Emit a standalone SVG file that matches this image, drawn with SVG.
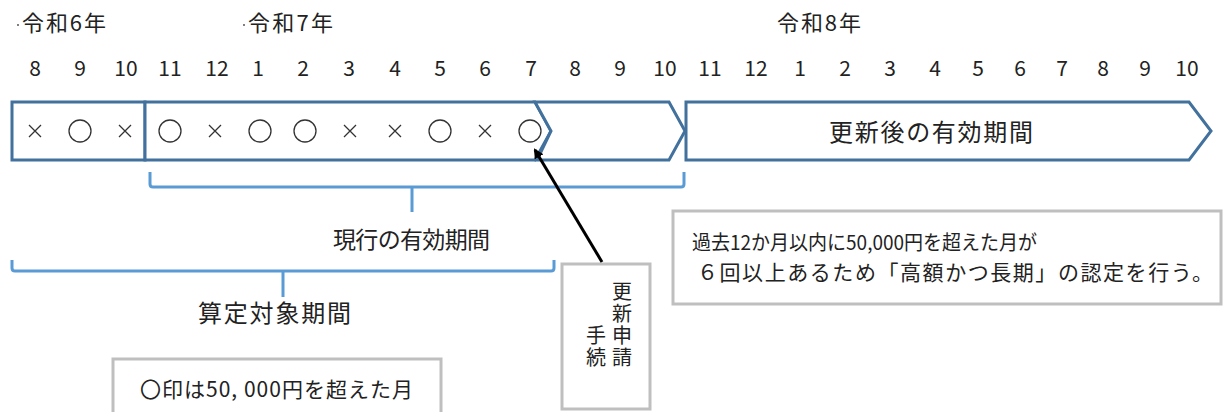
<svg xmlns="http://www.w3.org/2000/svg" width="1223" height="412" viewBox="0 0 1223 412">
<style>
text{font-family:"Noto Sans CJK JP","Noto Sans",sans-serif;fill:#222}
.yr{font-size:22px}
.mo{font-size:21px;text-anchor:middle}
.lbl{font-size:23px}
.lbl2{font-size:24px}
.note{font-size:20px}
.note2{font-size:21px}
.vert{font-size:20px;writing-mode:vertical-rl;letter-spacing:2px}
.band{fill:#fff;stroke:#41719C;stroke-width:3;stroke-linejoin:miter}
.brk{fill:none;stroke:#5B9BD5;stroke-width:3;stroke-linejoin:round}
.gbox{fill:#fff;stroke:#BFBFBF;stroke-width:3}
.mk{fill:none;stroke:#333;stroke-width:1.3}
</style>
<defs>
<marker id="ah" markerWidth="10" markerHeight="10" refX="8" refY="5" orient="auto" markerUnits="userSpaceOnUse" viewBox="0 0 10 10">
<path d="M0,0 L10,5 L0,10 z" fill="#000"/>
</marker>
<g id="x"><path d="M-6,-6 L6,6 M6,-6 L-6,6" class="mk"/></g>
<g id="o"><circle r="11" class="mk"/></g>
</defs>

<g id="years">
<circle cx="18" cy="25" r="0.9" fill="#444"/>
<text class="yr" x="22" y="31" textLength="84" lengthAdjust="spacing">令和6年</text>
<circle cx="244" cy="25" r="0.9" fill="#444"/>
<text class="yr" x="248" y="31" textLength="85" lengthAdjust="spacing">令和7年</text>
<text class="yr" x="777" y="31" textLength="84" lengthAdjust="spacing">令和8年</text>
</g>

<g id="months">
<text class="mo" x="35" y="76">8</text>
<text class="mo" x="80" y="76">9</text>
<text class="mo" x="126" y="76">10</text>
<text class="mo" x="170" y="76">11</text>
<text class="mo" x="217" y="76">12</text>
<text class="mo" x="258" y="76">1</text>
<text class="mo" x="303" y="76">2</text>
<text class="mo" x="349" y="76">3</text>
<text class="mo" x="395" y="76">4</text>
<text class="mo" x="440" y="76">5</text>
<text class="mo" x="485" y="76">6</text>
<text class="mo" x="531" y="76">7</text>
<text class="mo" x="575" y="76">8</text>
<text class="mo" x="620" y="76">9</text>
<text class="mo" x="665" y="76">10</text>
<text class="mo" x="710" y="76">11</text>
<text class="mo" x="756" y="76">12</text>
<text class="mo" x="800" y="76">1</text>
<text class="mo" x="845" y="76">2</text>
<text class="mo" x="890" y="76">3</text>
<text class="mo" x="935" y="76">4</text>
<text class="mo" x="978" y="76">5</text>
<text class="mo" x="1020" y="76">6</text>
<text class="mo" x="1062" y="76">7</text>
<text class="mo" x="1103" y="76">8</text>
<text class="mo" x="1145" y="76">9</text>
<text class="mo" x="1187" y="76">10</text>
</g>

<g id="period-r6">
<rect class="band" x="12" y="102" width="133" height="58"/>
</g>
<g id="current-period">
<path class="band" d="M145,102 L535,102 L551,131 L535,160 L145,160 Z"/>
</g>
<g id="renewal-window">
<path class="band" d="M535,102 L669,102 L685,131 L669,160 L537,160 L551,131 Z"/>
</g>
<g id="after-renewal">
<path class="band" d="M686,102 L1189,102 L1211,131 L1189,160 L686,160 Z"/>
<text class="lbl2" x="829" y="141" textLength="204" lengthAdjust="spacing">更新後の有効期間</text>
</g>

<g id="marks">
<use href="#x" x="35" y="131"/>
<use href="#o" x="80" y="131"/>
<use href="#x" x="125" y="131"/>
<use href="#o" x="170" y="131"/>
<use href="#x" x="215" y="131"/>
<use href="#o" x="260" y="131"/>
<use href="#o" x="305" y="131"/>
<use href="#x" x="350" y="131"/>
<use href="#x" x="395" y="131"/>
<use href="#o" x="440" y="131"/>
<use href="#x" x="485" y="131"/>
<use href="#o" x="530" y="131"/>
</g>

<g id="bracket-current">
<path class="brk" d="M150,172 L150,184 Q150,187 153,187 L681,187 Q684,187 684,184 L684,172 M412,187 L412,212"/>
<text class="lbl" x="333" y="248" textLength="157" lengthAdjust="spacing">現行の有効期間</text>
</g>

<g id="bracket-calc">
<path class="brk" d="M12,260 L12,268 Q12,271 15,271 L551,271 Q554,271 554,268 L554,260 M283,271 L283,297"/>
<text class="lbl2" x="198" y="322" textLength="153" lengthAdjust="spacing">算定対象期間</text>
</g>

<g id="legend-box">
<rect class="gbox" x="113" y="359" width="328" height="60"/>
<text class="note2" x="140" y="397" textLength="273" lengthAdjust="spacing">〇印は50, 000円を超えた月</text>
</g>

<g id="renewal-box">
<rect class="gbox" x="562" y="264" width="88" height="145"/>
<text class="vert" x="622" y="281">更新申請</text>
<text class="vert" x="596" y="325">手続</text>
</g>

<g id="info-box">
<rect class="gbox" x="673" y="211" width="548" height="93"/>
<text class="note" x="692" y="250" textLength="345" lengthAdjust="spacingAndGlyphs">過去12か月以内に50,000円を超えた月が</text>
<text class="note2" x="697" y="280" textLength="516" lengthAdjust="spacing">６回以上あるため「高額かつ長期」の認定を行う。</text>
</g>

<g id="connectors">
<line x1="602" y1="262" x2="535" y2="150" stroke="#000" stroke-width="3" marker-end="url(#ah)"/>
</g>
</svg>
